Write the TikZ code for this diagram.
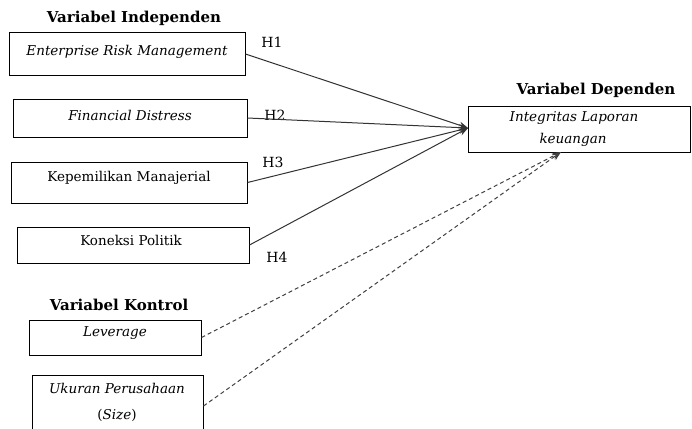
\documentclass[tikz,border=0pt]{standalone}
\usepackage{fontspec}
\setmainfont{DejaVu Serif}
\usetikzlibrary{arrows.meta}
\begin{document}
\begin{tikzpicture}[x=1pt,y=-1pt,
  box/.style={draw=black,line width=1pt,rectangle,inner sep=0pt},
  txt/.style={inner sep=0pt,font=\fontsize{13.5}{15}\selectfont},
  head/.style={inner sep=0pt,font=\fontsize{15}{17}\selectfont\bfseries},
  hyp/.style={inner sep=0pt,font=\fontsize{14}{16}\selectfont},
  conn/.style={draw=black!80,line width=1pt,-{Stealth[length=9pt,width=7pt]}},
  dconn/.style={draw=black!75,line width=1pt,dashed,dash pattern=on 4pt off 3pt,-{Stealth[length=9pt,width=7pt]}}]
\useasboundingbox (0,0) rectangle (692,428);
% headings
\node[head] (hI) at (134,18) {Variabel Independen};
\node[head] (hD) at (596,90) {Variabel Dependen};
\node[head] (hK) at (119,305) {Variabel Kontrol};
% boxes
\node[box,minimum width=236pt,minimum height=42pt] (b1) at (127,54) {};
\node[box,minimum width=234pt,minimum height=38pt] (b2) at (130,118) {};
\node[box,minimum width=236pt,minimum height=41pt] (b3) at (129,182.5) {};
\node[box,minimum width=232pt,minimum height=36pt] (b4) at (133,245) {};
\node[box,minimum width=172pt,minimum height=35pt] (b5) at (115,337.5) {};
\node[box,minimum width=171pt,minimum height=62pt] (b6) at (117.5,406) {};
\node[box,minimum width=222pt,minimum height=46pt] (dep) at (579,129) {};
% texts
\node[txt] (t1) at (127,52) {\itshape Enterprise Risk Management};
\node[txt] (t2) at (130,115) {\itshape Financial Distress};
\node[txt] (t3) at (129,178) {Kepemilikan Manajerial};
\node[txt] (t4) at (131,240) {Koneksi Politik};
\node[txt] (t5) at (115,333) {\itshape Leverage};
\node[txt] (t6a) at (117,388) {\itshape Ukuran Perusahaan};
\node[txt] (t6b) at (117,415) {(\textit{Size})};
\node[txt] (td1) at (574,118) {\itshape Integritas Laporan};
\node[txt] (td2) at (573,140) {\itshape keuangan};
% hypothesis labels
\node[hyp] (h1) at (272,42) {H1};
\node[hyp] (h2) at (275,115) {H2};
\node[hyp] (h3) at (273,162) {H3};
\node[hyp] (h4) at (277,257) {H4};
% connectors
\coordinate (tip) at (468,128);
\coordinate (dtip) at (561,152);
\draw[conn] (b1.east) -- (tip);
\draw[conn] (b2.east) -- (tip);
\draw[conn] (b3.east) -- (tip);
\draw[conn] (b4.east) -- (tip);
\draw[dconn] (b5.east) -- (dtip);
\draw[dconn] (b6.east) -- (dtip);
\end{tikzpicture}
\end{document}
